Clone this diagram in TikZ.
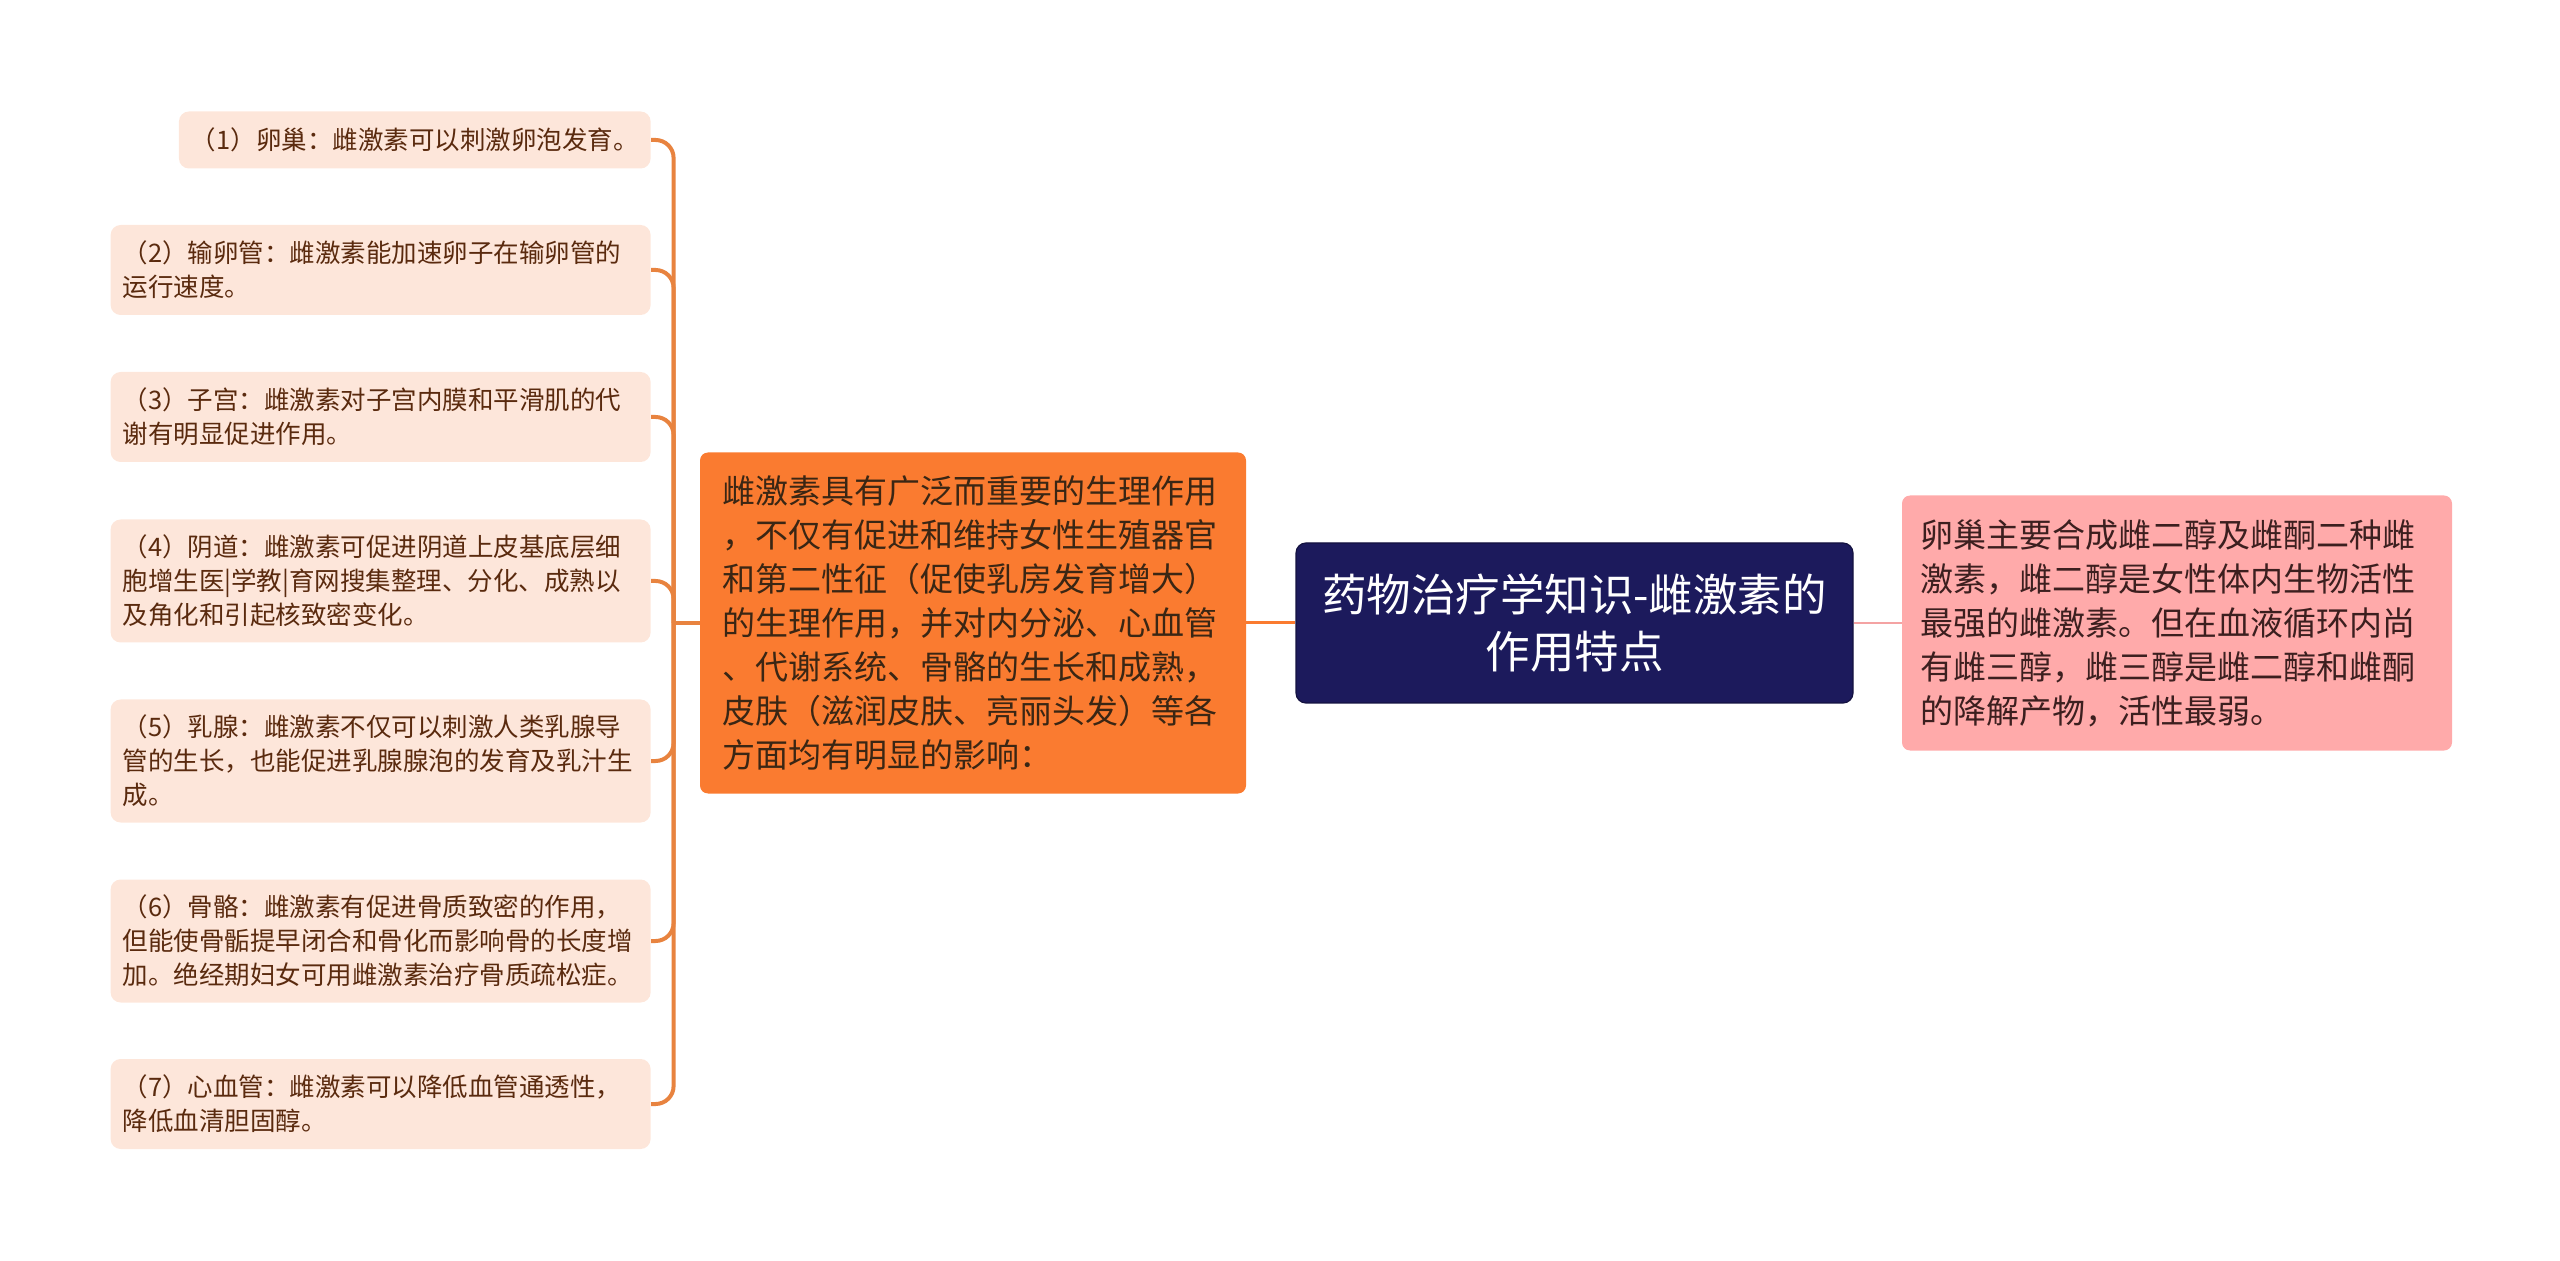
\documentclass[tikz,border=0pt]{standalone}
\usepackage{fontspec}
\setmainfont{Noto Sans CJK SC}
\usepackage{tikz}
\usetikzlibrary{calc}
\definecolor{leaffill}{HTML}{FDE6DA}
\definecolor{leaftext}{HTML}{5A2A0E}
\definecolor{branchcol}{HTML}{E8833F}
\definecolor{hubfill}{HTML}{FA7B30}
\definecolor{hubtext}{HTML}{3A2614}
\definecolor{rootfill}{HTML}{1C1A5C}
\definecolor{notefill}{HTML}{FFAAAA}
\definecolor{notetext}{HTML}{3C1F1F}
\definecolor{pinkline}{HTML}{F4A3A3}
\tikzset{
	leaf/.style={fill=leaffill, text=leaftext, rounded corners=5pt, inner xsep=6pt, inner ysep=2pt, align=left, anchor=east, font=\fontsize{12.75}{17}\selectfont},
	wideleaf/.style={leaf, text width=258pt},
	hub/.style={fill=hubfill, text=hubtext, rounded corners=4pt, inner xsep=11pt, text width=251pt, align=left, minimum height=170.5pt, font=\fontsize{16.5}{22}\selectfont},
	root/.style={fill=rootfill, draw=rootfill!70!black, line width=.6pt, text=white, rounded corners=5pt, minimum width=278.5pt, minimum height=80pt, align=center, font=\fontsize{22.25}{28.5}\selectfont},
	note/.style={fill=notefill, text=notetext, rounded corners=4pt, inner xsep=9pt, text width=257pt, align=left, minimum height=127.5pt, font=\fontsize{16.5}{22}\selectfont},
	branch/.style={draw=branchcol, line width=2pt, rounded corners=9pt},
	hubline/.style={draw=hubfill, line width=1.5pt},
	noteline/.style={draw=pinkline, line width=1.2pt}
}

\begin{document}
\begin{tikzpicture}[x=0.5pt,y=-0.5pt]
		\newcommand{\leafright}{651}
		\newcommand{\midy}{623}
		\useasboundingbox (0,0) rectangle (2560,1261);

		\node [root] (root) at (1574.5,\midy) {药物治疗学知识-雌激素的\\作用特点};
		\node [hub] (hub) at (973,\midy) {雌激素具有广泛而重要的生理作用\\，不仅有促进和维持女性生殖器官\\和第二性征（促使乳房发育增大）\\的生理作用，并对内分泌、心血管\\、代谢系统、骨骼的生长和成熟，\\皮肤（滋润皮肤、亮丽头发）等各\\方面均有明显的影响：};
		\node [note] (note) at (2177,\midy) {卵巢主要合成雌二醇及雌酮二种雌\\激素，雌二醇是女性体内生物活性\\最强的雌激素。但在血液循环内尚\\有雌三醇，雌三醇是雌二醇和雌酮\\的降解产物，活性最弱。};

		\node [leaf, minimum height=28.5pt] (ovary) at (\leafright,140) {（1）卵巢：雌激素可以刺激卵泡发育。};
		\node [wideleaf, minimum height=45pt] (tube) at (\leafright,270) {（2）输卵管：雌激素能加速卵子在输卵管的\\运行速度。};
		\node [wideleaf, minimum height=45pt] (uterus) at (\leafright,417) {（3）子宫：雌激素对子宫内膜和平滑肌的代\\谢有明显促进作用。};
		\node [wideleaf, minimum height=61.5pt] (vagina) at (\leafright,581) {（4）阴道：雌激素可促进阴道上皮基底层细\\胞增生医|学教|育网搜集整理、分化、成熟以\\及角化和引起核致密变化。};
		\node [wideleaf, minimum height=61.5pt] (breast) at (\leafright,761) {（5）乳腺：雌激素不仅可以刺激人类乳腺导\\管的生长，也能促进乳腺腺泡的发育及乳汁生\\成。};
		\node [wideleaf, minimum height=61.5pt] (bone) at (\leafright,941) {（6）骨骼：雌激素有促进骨质致密的作用，\\但能使骨骺提早闭合和骨化而影响骨的长度增\\加。绝经期妇女可用雌激素治疗骨质疏松症。};
		\node [wideleaf, minimum height=45pt] (heart) at (\leafright,1104) {（7）心血管：雌激素可以降低血管通透性，\\降低血清胆固醇。};

		\coordinate (trunk) at ($(hub.west)+(-26,0)$);
		\foreach \leafname in {ovary,tube,uterus,vagina,breast,bone,heart}
			\path [branch] (\leafname.east) -| (trunk);
		\path [branch] (trunk) -- (hub.west);
		\path [hubline] (hub.east) -- (root.west);
		\path [noteline] (root.east) -- (note.west);
	\end{tikzpicture}
\end{document}
